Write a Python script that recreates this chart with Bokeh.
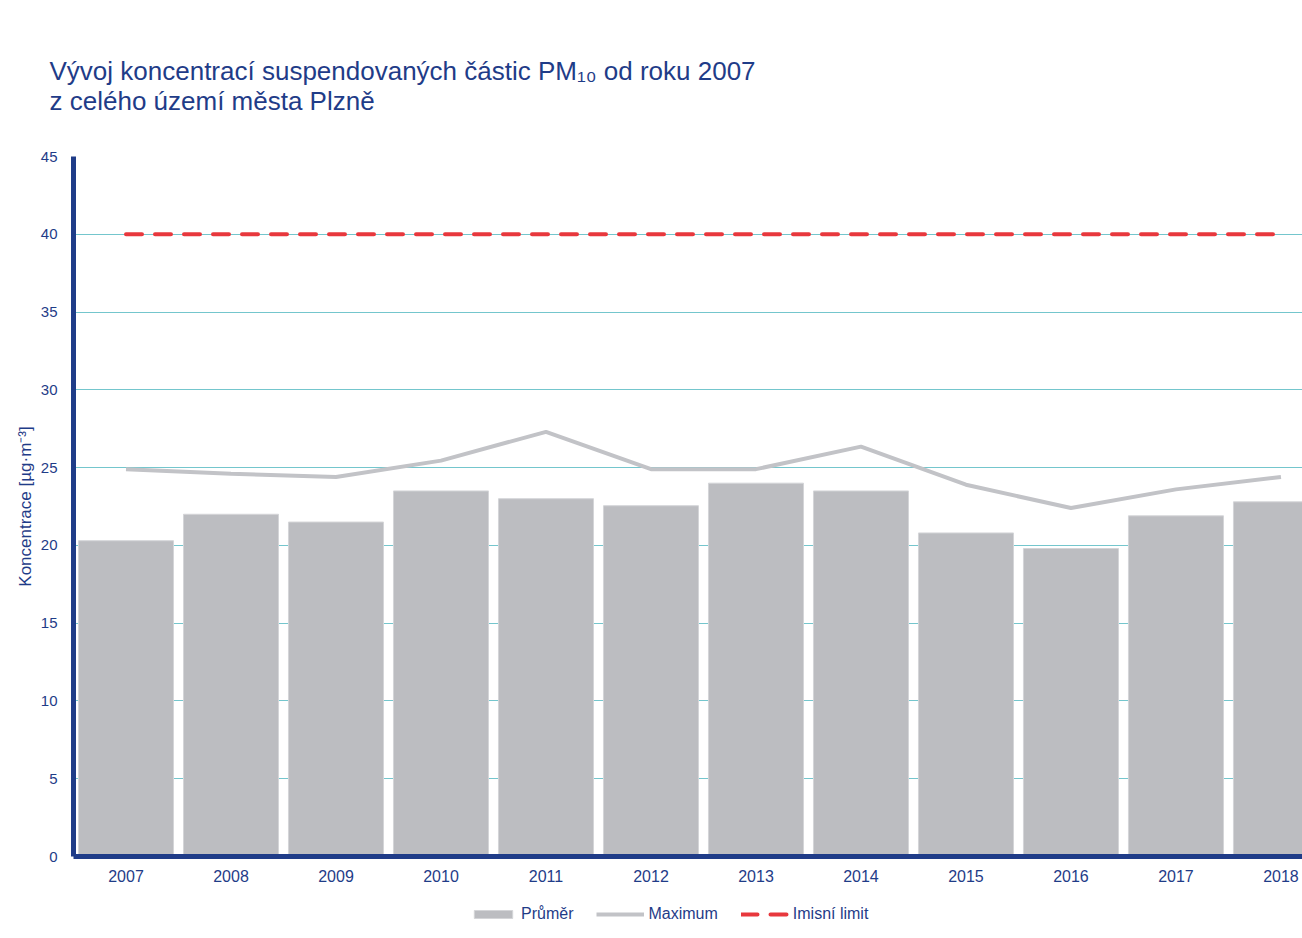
from bokeh.plotting import figure
from bokeh.layouts import column
from bokeh.models import Range1d, FixedTicker, Legend, LegendItem, Title, ColumnDataSource
from bokeh.embed import file_html
from bokeh.resources import INLINE

years = [2007, 2008, 2009, 2010, 2011, 2012, 2013, 2014, 2015, 2016, 2017, 2018]
prumer = [20.3, 22.0, 21.5, 23.5, 23.0, 22.55, 24.0, 23.5, 20.8, 19.8, 21.9, 22.8]
maximum = [24.9, 24.6, 24.4, 25.45, 27.3, 24.9, 24.9, 26.35, 23.9, 22.4, 23.6, 24.4]
limit = [40] * len(years)
y_ticks = [0, 5, 10, 15, 20, 25, 30, 35, 40, 45]

title_1 = "Vývoj koncentrací suspendovaných částic PM₁₀ od roku 2007"
title_2 = "z celého území města Plzně"
y_label = "Koncentrace [µg·m⁻³]"
legend_labels = ["Průměr", "Maximum", "Imisní limit"]

BLUE = "#1f3c88"
FONT = "Liberation Sans"
BAR = dict(fill_color="#bcbdc1", line_color="#d4d5d8", line_width=1)
MAXL = dict(line_color="#c2c3c7", line_width=4)
LIML = dict(line_color="#e8383d", line_width=4, line_dash="16 13", line_cap="round")

src = ColumnDataSource(dict(year=years, prumer=prumer, maximum=maximum, limit=limit))

p = figure(frame_width=1229, frame_height=700, output_backend="svg", toolbar_location=None,
           x_range=Range1d(2006.5, 2018.205), y_range=Range1d(0, 45),
           min_border_left=73, min_border_right=0, min_border_bottom=0, min_border_top=156)
p.outline_line_color = None
p.background_fill_color = "white"

# grid
p.xgrid.visible = False
p.ygrid.ticker = FixedTicker(ticks=y_ticks[1:-1])
p.ygrid.grid_line_color = "#74c6cd"
p.ygrid.grid_line_width = 1.2

p.vbar(x="year", top="prumer", width=0.905, source=src, **BAR)
p.line(x="year", y="maximum", source=src, **MAXL)
p.line(x="year", y="limit", source=src, **LIML)

# axes
for ax in (p.xaxis[0], p.yaxis[0]):
    ax.axis_line_color = BLUE
    ax.axis_line_width = 5
    ax.major_tick_line_color = None
    ax.minor_tick_line_color = None
    ax.major_label_text_color = BLUE
    ax.major_label_text_font = FONT

p.xaxis.ticker = FixedTicker(ticks=years)
p.xaxis.major_label_text_font_size = "16px"
p.xaxis.major_label_standoff = 7
p.xaxis.axis_label_standoff = 0
p.yaxis.ticker = FixedTicker(ticks=y_ticks)
p.yaxis.major_label_text_font_size = "15px"
p.yaxis.major_label_standoff = 10
p.yaxis.axis_label = y_label
p.yaxis.axis_label_text_font = FONT
p.yaxis.axis_label_text_font_style = "normal"
p.yaxis.axis_label_text_font_size = "17px"
p.yaxis.axis_label_text_color = BLUE
p.yaxis.axis_label_standoff = 3

title = Title(text=title_1 + "\n" + title_2, text_font=FONT, text_font_size="26px",
              text_color=BLUE, text_font_style="normal", text_line_height=1.0,
              align="left", offset=-24, standoff=81)
p.add_layout(title, "above")

# legend strip below the chart (its own renderers share the data but lie outside its view)
leg = figure(width=1302, height=50, output_backend="svg", toolbar_location=None,
             x_axis_location=None, y_axis_location=None,
             x_range=Range1d(0, 1), y_range=Range1d(0, 1),
             min_border_left=73, min_border_right=0, min_border_top=0, min_border_bottom=0)
leg.outline_line_color = None
leg.xgrid.visible = False
leg.ygrid.visible = False
r_bar = leg.vbar(x="year", top="prumer", width=0.905, source=src, **BAR)
r_max = leg.line(x="year", y="maximum", source=src, **MAXL)
r_lim = leg.line(x="year", y="limit", source=src, **LIML)

legend = Legend(items=[LegendItem(label=legend_labels[0], renderers=[r_bar]),
                       LegendItem(label=legend_labels[1], renderers=[r_max]),
                       LegendItem(label=legend_labels[2], renderers=[r_lim])],
                orientation="horizontal", location=(396, 10),
                glyph_width=48, glyph_height=10, label_standoff=4, spacing=23,
                label_height=20,
                label_text_font=FONT, label_text_font_size="16px", label_text_color=BLUE,
                border_line_color=None, background_fill_alpha=0, padding=0, margin=0)
leg.add_layout(legend, "center")

layout = column(p, leg, spacing=0)
open("out.html", "w").write(file_html(layout, INLINE))
